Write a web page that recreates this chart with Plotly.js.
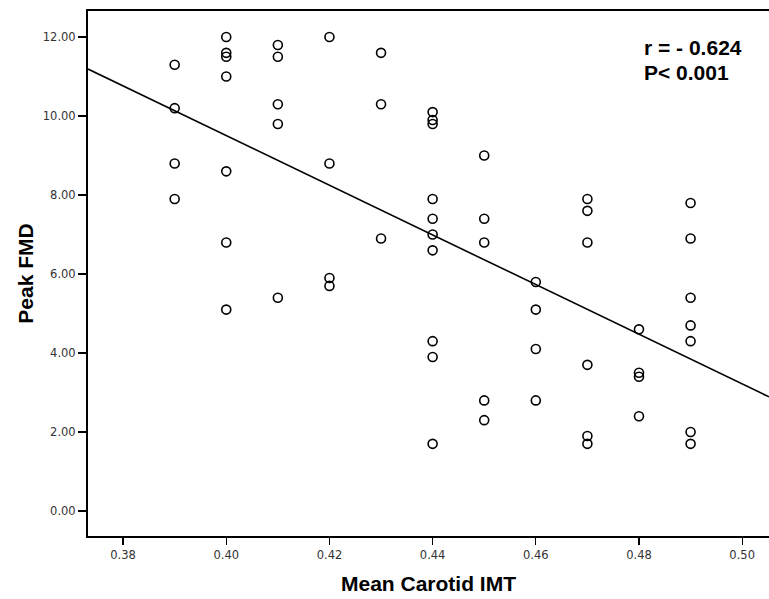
<!DOCTYPE html>
<html>
<head>
<meta charset="utf-8">
<script src="https://cdn.plot.ly/plotly-3.0.1.min.js"></script>
<style>html,body{margin:0;padding:0;background:#fff;}#chart{width:769px;height:599px;}</style>
</head>
<body>
<div id="chart"></div>
<script>
// Mean Carotid IMT (x) vs Peak FMD (y)
const imt = [
  0.39, 0.39, 0.39, 0.39,
  0.40, 0.40, 0.40, 0.40, 0.40, 0.40, 0.40,
  0.41, 0.41, 0.41, 0.41, 0.41,
  0.42, 0.42, 0.42, 0.42,
  0.43, 0.43, 0.43,
  0.44, 0.44, 0.44, 0.44, 0.44, 0.44, 0.44, 0.44, 0.44, 0.44,
  0.45, 0.45, 0.45, 0.45, 0.45,
  0.46, 0.46, 0.46, 0.46,
  0.47, 0.47, 0.47, 0.47, 0.47, 0.47,
  0.48, 0.48, 0.48, 0.48,
  0.49, 0.49, 0.49, 0.49, 0.49, 0.49, 0.49
];
const fmd = [
  11.3, 10.2, 8.8, 7.9,
  12.0, 11.6, 11.5, 11.0, 8.6, 6.8, 5.1,
  11.8, 11.5, 10.3, 9.8, 5.4,
  12.0, 8.8, 5.9, 5.7,
  11.6, 10.3, 6.9,
  10.1, 9.9, 9.8, 7.9, 7.4, 7.0, 6.6, 4.3, 3.9, 1.7,
  9.0, 7.4, 6.8, 2.8, 2.3,
  5.8, 5.1, 4.1, 2.8,
  7.9, 7.6, 6.8, 3.7, 1.9, 1.7,
  4.6, 3.5, 3.4, 2.4,
  7.8, 6.9, 5.4, 4.7, 4.3, 2.0, 1.7
];
// fitted regression line endpoints
const fitX = [0.3732, 0.5052];
const fitY = [11.19, 2.89];
const xTicks = [0.38, 0.40, 0.42, 0.44, 0.46, 0.48, 0.50];
const xTickText = ['0.38', '0.40', '0.42', '0.44', '0.46', '0.48', '0.50'];
const yTicks = [0, 2, 4, 6, 8, 10, 12];
const yTickText = ['0.00', '2.00', '4.00', '6.00', '8.00', '10.00', '12.00'];
const statLines = ['r = - 0.624', 'P< 0.001'];

const traces = [
  {
    x: fitX, y: fitY, type: 'scatter', mode: 'lines',
    line: {color: '#000', width: 1.6}, hoverinfo: 'skip', showlegend: false
  },
  {
    x: imt, y: fmd, type: 'scatter', mode: 'markers',
    marker: {symbol: 'circle-open', size: 9, color: '#000', line: {width: 1.6, color: '#000'}},
    showlegend: false
  }
];

const tickFont = {family: 'DejaVu Sans, sans-serif', size: 11.5, color: '#333'};
const titleFont = {family: 'Liberation Sans, Arial, sans-serif', size: 21, color: '#000', weight: 'bold'};

const layout = {
  width: 769, height: 599,
  margin: {l: 88, r: 0, t: 11, b: 63, pad: 0},
  paper_bgcolor: '#fff', plot_bgcolor: '#fff',
  xaxis: {
    range: [0.3732, 0.5052], tickvals: xTicks, ticktext: xTickText,
    ticks: 'outside', ticklen: 7, tickwidth: 1.2, tickcolor: '#000',
    showline: true, linecolor: '#000', linewidth: 2, mirror: true,
    showgrid: false, zeroline: false, tickfont: tickFont,
    title: {text: '<b>Mean Carotid IMT</b>', font: titleFont, standoff: 16},
    automargin: false
  },
  yaxis: {
    range: [-0.633, 12.66], tickvals: yTicks, ticktext: yTickText,
    ticks: 'outside', ticklen: 8, tickwidth: 1.2, tickcolor: '#000',
    showline: true, linecolor: '#000', linewidth: 2,
    showgrid: false, zeroline: false, tickfont: tickFont,
    title: {text: '<b>Peak FMD</b>', font: titleFont, standoff: 3},
    automargin: false
  },
  annotations: [
    {xref: 'paper', yref: 'paper', x: 0.8135, y: 0.931, xanchor: 'left', yanchor: 'middle',
     text: '<b>' + statLines[0] + '</b>', showarrow: false,
     font: {family: 'Liberation Sans, Arial, sans-serif', size: 21, color: '#000'}},
    {xref: 'paper', yref: 'paper', x: 0.8135, y: 0.882, xanchor: 'left', yanchor: 'middle',
     text: '<b>' + statLines[1] + '</b>', showarrow: false,
     font: {family: 'Liberation Sans, Arial, sans-serif', size: 21, color: '#000'}}
  ]
};

Plotly.newPlot('chart', traces, layout, {displayModeBar: false, staticPlot: true});
</script>
</body>
</html>
